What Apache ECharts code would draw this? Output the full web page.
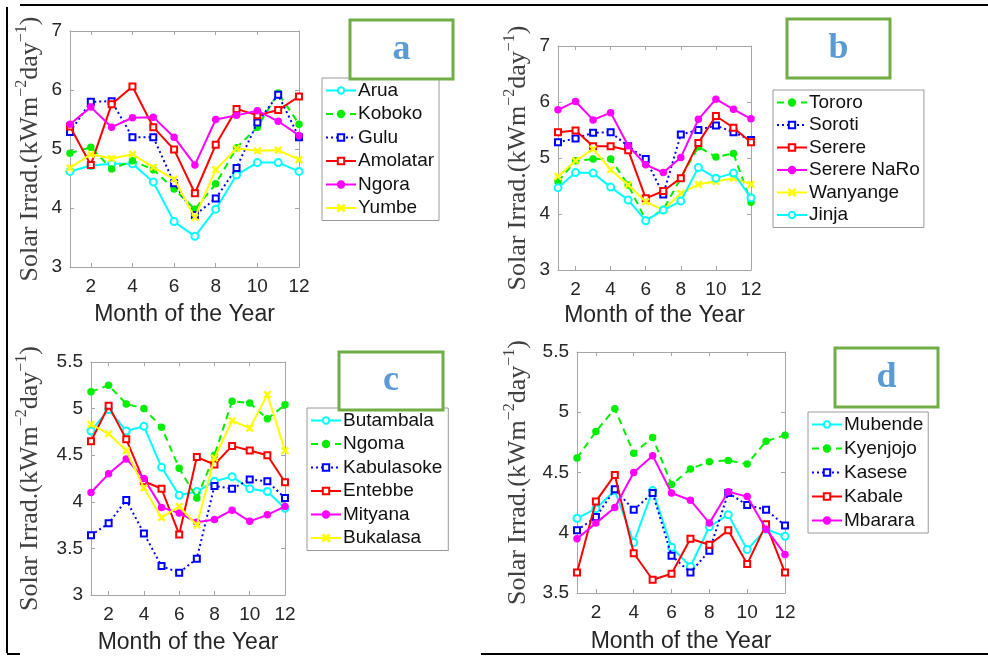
<!DOCTYPE html>
<html>
<head>
<meta charset="utf-8">
<title>Solar irradiation by month</title>
<script src="https://cdn.jsdelivr.net/npm/echarts@6/dist/echarts.min.js"></script>
<style>
  html, body { margin: 0; padding: 0; background: #ffffff; }
  #main { width: 988px; height: 656px; }
</style>
</head>
<body>
<div id="main"></div>
<script>
// months on the x axis
const months = ['1', '2', '3', '4', '5', '6', '7', '8', '9', '10', '11', '12'];

// panel a
const aNames = ['Arua', 'Koboko', 'Gulu', 'Amolatar', 'Ngora', 'Yumbe'];
const arua     = [4.62, 4.72, 4.75, 4.75, 4.44, 3.77, 3.52, 3.98, 4.56, 4.77, 4.77, 4.62];
const koboko   = [4.93, 5.03, 4.66, 4.80, 4.65, 4.32, 3.98, 4.41, 5.02, 5.37, 5.95, 5.42];
const gulu     = [5.29, 5.80, 5.81, 5.20, 5.20, 4.42, 3.88, 4.16, 4.68, 5.45, 5.92, 5.20];
const amolatar = [5.38, 4.73, 5.76, 6.06, 5.37, 4.99, 4.25, 5.07, 5.68, 5.57, 5.66, 5.89];
const ngora    = [5.42, 5.71, 5.37, 5.53, 5.54, 5.20, 4.73, 5.50, 5.57, 5.65, 5.47, 5.23];
const yumbe    = [4.68, 4.91, 4.84, 4.91, 4.69, 4.49, 3.84, 4.65, 5.01, 4.97, 4.98, 4.82];

// panel b
const bNames = ['Tororo', 'Soroti', 'Serere', 'Serere NaRo', 'Wanyange', 'Jinja'];
const tororo     = [4.58, 4.95, 4.98, 4.98, 4.52, 3.89, 4.08, 4.64, 5.20, 5.02, 5.08, 4.21];
const soroti     = [5.28, 5.35, 5.45, 5.46, 5.21, 4.98, 4.35, 5.42, 5.50, 5.58, 5.46, 5.32];
const serere     = [5.46, 5.49, 5.21, 5.21, 5.14, 4.28, 4.41, 4.64, 5.27, 5.75, 5.54, 5.28];
const serereNaro = [5.86, 6.01, 5.68, 5.81, 5.22, 4.88, 4.74, 5.01, 5.69, 6.05, 5.87, 5.70];
const wanyange   = [4.67, 4.95, 5.16, 4.79, 4.52, 4.22, 4.07, 4.37, 4.53, 4.58, 4.64, 4.53];
const jinja      = [4.47, 4.74, 4.73, 4.48, 4.25, 3.88, 4.07, 4.23, 4.83, 4.64, 4.73, 4.29];

// panel c
const cNames = ['Butambala', 'Ngoma', 'Kabulasoke', 'Entebbe', 'Mityana', 'Bukalasa'];
const butambala  = [4.76, 4.99, 4.76, 4.81, 4.37, 4.07, 4.11, 4.22, 4.27, 4.14, 4.11, 3.93];
const ngoma      = [5.18, 5.25, 5.05, 5.00, 4.80, 4.36, 4.04, 4.50, 5.08, 5.06, 4.89, 5.04];
const kabulasoke = [3.64, 3.77, 4.02, 3.66, 3.31, 3.24, 3.39, 4.17, 4.14, 4.24, 4.22, 4.04];
const entebbe    = [4.65, 5.03, 4.67, 4.22, 4.14, 3.65, 4.48, 4.40, 4.60, 4.55, 4.50, 4.21];
const mityana    = [4.10, 4.30, 4.46, 4.25, 3.94, 3.88, 3.78, 3.81, 3.91, 3.79, 3.86, 3.95];
const bukalasa   = [4.83, 4.73, 4.55, 4.15, 3.83, 3.95, 3.75, 4.47, 4.87, 4.79, 5.15, 4.55];

// panel d
const dNames = ['Mubende', 'Kyenjojo', 'Kasese', 'Kabale', 'Mbarara'];
const mubende  = [4.12, 4.20, 4.35, 3.92, 4.35, 3.88, 3.72, 4.05, 4.15, 3.86, 4.03, 3.97];
const kyenjojo = [4.62, 4.84, 5.03, 4.66, 4.79, 4.40, 4.53, 4.59, 4.60, 4.57, 4.76, 4.81];
const kasese   = [4.02, 4.13, 4.36, 4.19, 4.33, 3.81, 3.67, 3.85, 4.33, 4.23, 4.19, 4.06];
const kabale   = [3.67, 4.26, 4.48, 3.83, 3.61, 3.66, 3.95, 3.90, 4.02, 3.74, 4.07, 3.67];
const mbarara  = [3.95, 4.08, 4.21, 4.50, 4.64, 4.33, 4.27, 4.08, 4.34, 4.30, 4.03, 3.82];

// y axis ranges and tick steps
const yMin = [3, 3, 3, 3.5];
const yMax = [7, 7, 5.5, 5.5];
const yStep = [1, 1, 0.5, 0.5];

// MATLAB style line specs
const X_MARK = 'path://M0,1L1,0L5,4L9,0L10,1L6,5L10,9L9,10L5,6L1,10L0,9L4,5Z';
const lineSpec = {
  cyan:    { color: '#00ffff', symbol: 'emptyCircle', size: 7, dash: 'solid' },
  green:   { color: '#00ee00', symbol: 'circle', size: 6, dash: [7, 5] },
  blue:    { color: '#0000ff', symbol: 'emptyRect', size: 6, dash: [2, 3] },
  red:     { color: '#ff0000', symbol: 'emptyRect', size: 6, dash: 'solid' },
  magenta: { color: '#ff00ff', symbol: 'circle', size: 6, dash: 'solid' },
  yellow:  { color: '#ffff00', symbol: X_MARK, size: 6, dash: 'solid' }
};

// panels: plot box, legend, letter box
const panels = [
  {
    grid: { left: 70, top: 31, width: 229, height: 236 },
    names: aNames, data: [arua, koboko, gulu, amolatar, ngora, yumbe],
    specs: ['cyan', 'green', 'blue', 'red', 'magenta', 'yellow'],
    yNameGap: 24, xNameGap: 36,
    legend: { left: 322, top: 78, gap: 4.5, padding: [3, 5, 3, 3] },
    box: { x: 350, y: 20, w: 103, h: 59 }, letter: 'a'
  },
  {
    grid: { left: 558, top: 46, width: 193, height: 224 },
    names: bNames, data: [tororo, soroti, serere, serereNaro, wanyange, jinja],
    specs: ['green', 'blue', 'red', 'magenta', 'yellow', 'cyan'],
    yNameGap: 24, xNameGap: 34,
    legend: { left: 773, top: 90, gap: 3.5, padding: [3, 4, 3, 3] },
    box: { x: 787, y: 19, w: 103, h: 59 }, letter: 'b'
  },
  {
    grid: { left: 91, top: 362, width: 194, height: 233 },
    names: cNames, data: [butambala, ngoma, kabulasoke, entebbe, mityana, bukalasa],
    specs: ['cyan', 'green', 'blue', 'red', 'magenta', 'yellow'],
    yNameGap: 45, xNameGap: 36,
    legend: { left: 307, top: 408, gap: 4.5, padding: [3, 6, 3, 3] },
    box: { x: 339, y: 352, w: 104, h: 58 }, letter: 'c'
  },
  {
    grid: { left: 577, top: 352, width: 208, height: 241 },
    names: dNames, data: [mubende, kyenjojo, kasese, kabale, mbarara],
    specs: ['cyan', 'green', 'blue', 'red', 'magenta'],
    yNameGap: 43, xNameGap: 37,
    legend: { left: 808, top: 412, gap: 5, padding: [3, 5, 3, 3] },
    box: { x: 835, y: 348, w: 103, h: 59 }, letter: 'd'
  }
];

const AXIS_GREY = '#a6a6a6';
const TEXT = '#262626';
const oddTick = (idx) => idx % 2 === 1;

function getOption() {
  const grid = [], xAxis = [], yAxis = [], legend = [], series = [], graphic = [];

  panels.forEach((p, i) => {
    grid.push(Object.assign({ show: false }, p.grid));

    // bottom x axis with labels, top x axis only for the box ticks
    xAxis.push({
      type: 'category', gridIndex: i, data: months, boundaryGap: false,
      name: 'Month of the Year', nameLocation: 'middle', nameGap: p.xNameGap,
      nameTextStyle: { fontFamily: 'Liberation Sans', fontSize: 23, color: TEXT },
      axisLine: { lineStyle: { color: AXIS_GREY, width: 1 } },
      axisTick: { inside: true, length: 4, interval: oddTick, lineStyle: { color: AXIS_GREY } },
      axisLabel: { interval: oddTick, margin: 10, fontFamily: 'Liberation Sans', fontSize: 19, color: TEXT },
      splitLine: { show: false }
    });
    xAxis.push({
      type: 'category', gridIndex: i, data: months, boundaryGap: false, position: 'top',
      axisLine: { lineStyle: { color: AXIS_GREY, width: 1 } },
      axisTick: { inside: true, length: 4, interval: oddTick, lineStyle: { color: AXIS_GREY } },
      axisLabel: { show: false },
      splitLine: { show: false }
    });

    // left y axis with labels, right y axis only for the box ticks
    yAxis.push({
      type: 'value', gridIndex: i, min: yMin[i], max: yMax[i], interval: yStep[i],
      name: 'Solar Irrad.(kWm{sup|−2}day{sup|−1})',
      nameLocation: 'middle', nameGap: p.yNameGap, nameRotate: 90,
      nameTextStyle: {
        fontFamily: 'Liberation Serif', fontSize: 26, color: '#404040', lineHeight: 32,
        rich: { sup: { fontFamily: 'Liberation Serif', fontSize: 16, color: '#404040', verticalAlign: 'top', lineHeight: 16 } }
      },
      axisLine: { show: true, lineStyle: { color: AXIS_GREY, width: 1 } },
      axisTick: { show: true, inside: true, length: 4, lineStyle: { color: AXIS_GREY } },
      axisLabel: { margin: 8, fontFamily: 'Liberation Sans', fontSize: 19, color: TEXT },
      splitLine: { show: false }
    });
    yAxis.push({
      type: 'value', gridIndex: i, min: yMin[i], max: yMax[i], interval: yStep[i], position: 'right',
      axisLine: { show: true, lineStyle: { color: AXIS_GREY, width: 1 } },
      axisTick: { show: true, inside: true, length: 4, lineStyle: { color: AXIS_GREY } },
      axisLabel: { show: false },
      splitLine: { show: false }
    });

    legend.push({
      data: p.names, orient: 'vertical', left: p.legend.left, top: p.legend.top,
      itemWidth: 30, itemHeight: 8, itemGap: p.legend.gap, padding: p.legend.padding,
      backgroundColor: '#ffffff', borderColor: '#9a9a9a', borderWidth: 1, borderRadius: 0,
      selectedMode: false,
      textStyle: { fontFamily: 'Liberation Sans', fontSize: 19, color: '#111111', padding: [0, 0, 0, -3] }
    });

    p.names.forEach((name, k) => {
      const s = lineSpec[p.specs[k]];
      series.push({
        name: name, type: 'line', xAxisIndex: 2 * i, yAxisIndex: 2 * i,
        data: p.data[k],
        symbol: s.symbol, symbolSize: s.size, showAllSymbol: true,
        lineStyle: { color: s.color, width: 2, type: s.dash },
        itemStyle: { color: s.color, borderColor: s.color, borderWidth: 1.5 },
        emphasis: { disabled: true },
        z: 2 + k
      });
    });

    // green framed letter
    graphic.push({
      type: 'rect', z: 100,
      shape: { x: p.box.x, y: p.box.y, width: p.box.w, height: p.box.h },
      style: { fill: '#ffffff', stroke: '#70ad47', lineWidth: 3 }
    });
    graphic.push({
      type: 'text', z: 101,
      x: p.box.x + p.box.w / 2, y: p.box.y + p.box.h / 2,
      style: {
        text: p.letter, fill: '#5b9bd5', font: 'bold 36px "Liberation Serif"',
        align: 'center', verticalAlign: 'middle'
      }
    });
  });

  // table frame
  const frame = [
    [20, 5, 988, 5],
    [7, 7, 7, 653],
    [7, 654, 20, 654],
    [481, 654, 988, 654]
  ];
  frame.forEach((l) => {
    graphic.push({
      type: 'line', z: 90,
      shape: { x1: l[0], y1: l[1], x2: l[2], y2: l[3] },
      style: { stroke: '#000000', lineWidth: 2 }
    });
  });

  return {
    backgroundColor: '#ffffff',
    animation: false,
    grid: grid,
    xAxis: xAxis,
    yAxis: yAxis,
    legend: legend,
    series: series,
    graphic: graphic
  };
}

const chart = echarts.init(document.getElementById('main'), null, { renderer: 'canvas' });
chart.setOption(getOption());
</script>
</body>
</html>
